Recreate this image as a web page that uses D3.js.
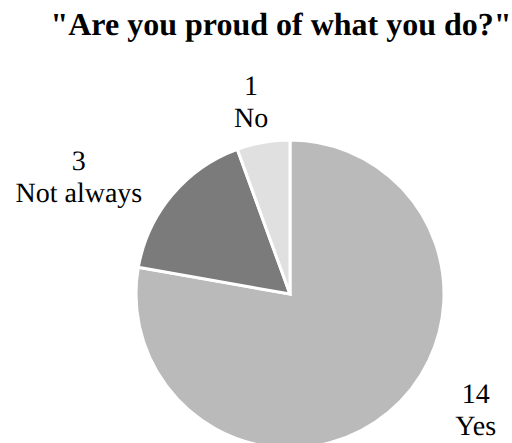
<!DOCTYPE html>
<html>
<head>
<meta charset="utf-8">
<script src="https://cdn.jsdelivr.net/npm/d3@7"></script>
<style>
  body { margin: 0; background: #fff; }
  svg { text-rendering: geometricPrecision; }
</style>
</head>
<body>
<svg id="chart" width="512" height="443"></svg>
<script>
// survey answers, clockwise from 12 o'clock
var categories = ["Yes", "Not always", "No"];
var counts = [14, 3, 1];
var sliceColors = ["#bababa", "#7b7b7b", "#e0e0e0"];
var titleText = "\"Are you proud of what you do?\"";

var width = 512, height = 443;
var cx = 290, cy = 294, radius = 154;
var fontName = "Liberation Serif";

// where each label sits (angle in degrees clockwise from top, distance from centre)
var labelAngles = [124, 297, 348];
var labelRadii = [224, 237, 187];

var svg = d3.select("#chart");

svg.append("text")
    .attr("x", 281)
    .attr("y", 35)
    .attr("text-anchor", "middle")
    .attr("font-family", fontName)
    .attr("font-size", 32)
    .attr("font-weight", "bold")
    .text(titleText);

var pieGroup = svg.append("g")
    .attr("transform", "translate(" + cx + "," + cy + ")");

var pie = d3.pie().sort(null).value(function(d) { return d.count; });
var arc = d3.arc().innerRadius(0).outerRadius(radius);

var data = categories.map(function(c, i) {
    return { name: c, count: counts[i], color: sliceColors[i], idx: i };
});

pieGroup.selectAll("path.slice")
    .data(pie(data))
    .enter()
    .append("path")
    .attr("class", "slice")
    .attr("d", arc)
    .attr("fill", function(d) { return d.data.color; })
    .attr("stroke", "#fff")
    .attr("stroke-width", 3);

// labels: value on first line, category on second
var labels = pieGroup.selectAll("text.lbl")
    .data(data)
    .enter()
    .append("text")
    .attr("class", "lbl")
    .attr("text-anchor", "middle")
    .attr("font-family", fontName)
    .attr("font-size", 28)
    .attr("transform", function(d) {
        var a = labelAngles[d.idx] * Math.PI / 180;
        var r = labelRadii[d.idx];
        return "translate(" + (r * Math.sin(a)) + "," + (-r * Math.cos(a)) + ")";
    });

labels.append("tspan")
    .attr("x", 0)
    .attr("y", -16)
    .text(function(d) { return d.count; });

labels.append("tspan")
    .attr("x", 0)
    .attr("y", 16)
    .text(function(d) { return d.name; });
</script>
</body>
</html>
